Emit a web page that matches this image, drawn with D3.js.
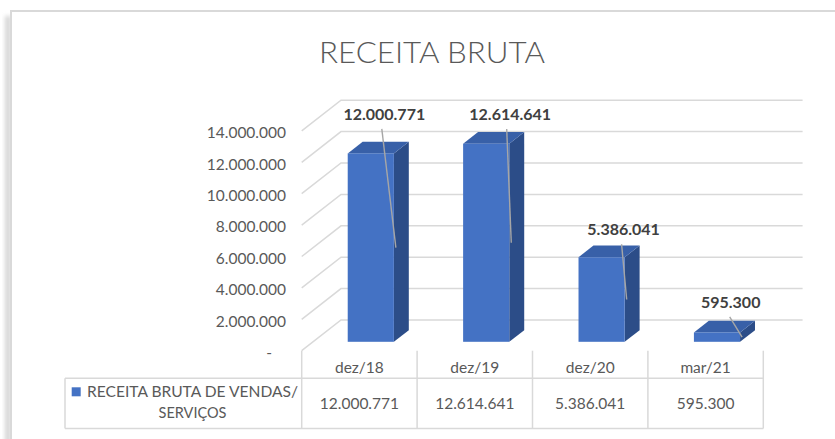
<!DOCTYPE html>
<html>
<head>
<meta charset="utf-8">
<script src="https://cdn.jsdelivr.net/npm/d3@7"></script>
<style>
  html, body { margin: 0; padding: 0; background: #ffffff; }
  svg { display: block; }
  text { font-family: Lato, "Open Sans", sans-serif; }
</style>
</head>
<body>
<svg id="chart" width="835" height="439"></svg>
<script>
// ---------------- DATA ----------------
const chartTitle = "RECEITA BRUTA";
const categories = ["dez/18", "dez/19", "dez/20", "mar/21"];
const values = [12000771, 12614641, 5386041, 595300];
const seriesLines = ["RECEITA BRUTA DE VENDAS/", "SERVIÇOS"];
const yTicks = [0, 2000000, 4000000, 6000000, 8000000, 10000000, 12000000, 14000000];

// ---------------- LAYOUT ----------------
const W = 835, H = 439;
const plotLeft = 301.7, plotRight = 763.3;
const yFront0 = 350.7, yFrontMax = 130.9;
const depth = { dx: 39.3, dy: -30.7 };
const barFront = 0.29, barBack = 0.67, barWidthFrac = 0.4;
const labelShift = [[13.5, -33.5], [24, -23.8], [22, -22], [13.7, -24.5]];
const leaderStartDx = [-2.5, -3.5, -2, -1];

const colFront = "#4472C4", colTop = "#3860A8", colSide = "#2C4D88";
const gridCol = "#d9d9d9";

const ptBR = d3.formatLocale({ decimal: ",", thousands: ".", grouping: [3], currency: ["R$", ""] });
const fmt = ptBR.format(",.0f");

const svg = d3.select("#chart");
svg.append("rect").attr("width", W).attr("height", H).attr("fill", "#fff");

// frame with soft left shadow
const defs = svg.append("defs");
const blur = defs.append("filter").attr("id", "blur").attr("x", "-50%").attr("y", "-50%").attr("width", "200%").attr("height", "200%");
blur.append("feGaussianBlur").attr("stdDeviation", 2);
svg.append("rect").attr("x", 5).attr("y", 16).attr("width", 6).attr("height", 440)
  .attr("fill", "#d6d6d6").attr("filter", "url(#blur)");
svg.append("rect").attr("x", 11).attr("y", 11).attr("width", 840).attr("height", 450)
  .attr("fill", "#fff").attr("stroke", gridCol).attr("stroke-width", 2);

// scales
const x = d3.scaleBand().domain(categories).range([plotLeft, plotRight]).padding(0);
const y = d3.scaleLinear().domain([0, 14000000]).range([yFront0, yFrontMax]);
const bw = x.bandwidth();

// title
svg.append("text").attr("x", 432).attr("y", 63).attr("text-anchor", "middle")
  .attr("font-size", 29.5).attr("font-weight", 300).attr("fill", "#595959")
  .attr("textLength", 226).attr("lengthAdjust", "spacingAndGlyphs")
  .text(chartTitle);

// gridlines (front diagonal + back wall)
const grid = svg.append("g").attr("fill", "none").attr("stroke", gridCol).attr("stroke-width", 1.5);
yTicks.forEach(v => {
  const yf = y(v);
  grid.append("path").attr("d",
    `M${plotLeft},${yf}L${plotLeft + depth.dx},${yf + depth.dy}L${plotRight + depth.dx},${yf + depth.dy}`);
});

// y-axis tick labels
const yAxis = d3.axisLeft(y).tickValues(yTicks).tickSize(0).tickPadding(0)
  .tickFormat(v => v === 0 ? "-" : fmt(v));
const ya = svg.append("g").attr("transform", `translate(286,0)`).call(yAxis);
ya.select(".domain").remove();
ya.selectAll("text")
  .attr("font-family", "Lato, sans-serif").attr("font-size", 15.5).attr("fill", "#595959")
  .attr("dy", "0.44em")
  .attr("x", d => d === 0 ? -14 : 0);

// bars (3D)
const bars = svg.append("g");
values.forEach((v, i) => {
  const c = categories[i];
  const w = bw * barWidthFrac;
  const x0 = x(c) + (bw - w) / 2 + barFront * depth.dx;
  const yt = y(v) + barFront * depth.dy;
  const yb = y(0) + barFront * depth.dy;
  const ddx = (barBack - barFront) * depth.dx, ddy = (barBack - barFront) * depth.dy;
  const g = bars.append("g");
  g.append("path").attr("fill", colSide)
    .attr("d", `M${x0 + w},${yt}L${x0 + w + ddx},${yt + ddy}L${x0 + w + ddx},${yb + ddy}L${x0 + w},${yb}Z`);
  g.append("path").attr("fill", colTop)
    .attr("d", `M${x0},${yt}L${x0 + w},${yt}L${x0 + w + ddx},${yt + ddy}L${x0 + ddx},${yt + ddy}Z`);
  g.append("rect").attr("x", x0).attr("y", yt).attr("width", w).attr("height", yb - yt).attr("fill", colFront);

  // data label + leader line
  const lx = x0 + w / 2 + labelShift[i][0];
  const ly = yt + labelShift[i][1];
  svg.append("line")
    .attr("x1", lx + leaderStartDx[i]).attr("y1", ly + 9)
    .attr("x2", x0 + w + 2).attr("y2", (yt + yb) / 2)
    .attr("stroke", "#a6a6a6").attr("stroke-width", 1.4);
  svg.append("text").attr("x", lx).attr("y", ly).attr("text-anchor", "middle")
    .attr("font-size", 16).attr("font-weight", 700).attr("fill", "#404040")
    .text(fmt(v));
});

// data table
const tbl = svg.append("g").attr("stroke", gridCol).attr("stroke-width", 1.5).attr("fill", "none");
const rowTop = 378.3, rowBot = 428.5, tableLeft = 65;
tbl.append("line").attr("x1", tableLeft).attr("x2", plotRight).attr("y1", rowTop).attr("y2", rowTop);
tbl.append("line").attr("x1", tableLeft).attr("x2", plotRight).attr("y1", rowBot).attr("y2", rowBot);
tbl.append("line").attr("x1", tableLeft).attr("x2", tableLeft).attr("y1", rowTop).attr("y2", rowBot);
categories.concat(["__end"]).forEach((c, i) => {
  const xx = i < categories.length ? x(c) : plotRight;
  tbl.append("line").attr("x1", xx).attr("x2", xx).attr("y1", yFront0).attr("y2", rowBot);
});
categories.forEach((c, i) => {
  const cx = x(c) + bw / 2;
  svg.append("text").attr("x", cx).attr("y", 373).attr("text-anchor", "middle")
    .attr("font-size", 15.5).attr("fill", "#595959").text(c);
  svg.append("text").attr("x", cx).attr("y", 409).attr("text-anchor", "middle")
    .attr("font-size", 15.5).attr("fill", "#595959").text(fmt(values[i]));
});

// legend key in table
svg.append("rect").attr("x", 71.7).attr("y", 387.3).attr("width", 9).attr("height", 9).attr("fill", colFront);
svg.append("text").attr("x", 87).attr("y", 397).attr("font-size", 15.5).attr("fill", "#595959")
  .attr("textLength", 211).attr("lengthAdjust", "spacingAndGlyphs").text(seriesLines[0]);
svg.append("text").attr("x", 87 + 105.5).attr("y", 418).attr("text-anchor", "middle")
  .attr("font-size", 15.5).attr("fill", "#595959")
  .attr("textLength", 68).attr("lengthAdjust", "spacingAndGlyphs").text(seriesLines[1]);
</script>
</body>
</html>
